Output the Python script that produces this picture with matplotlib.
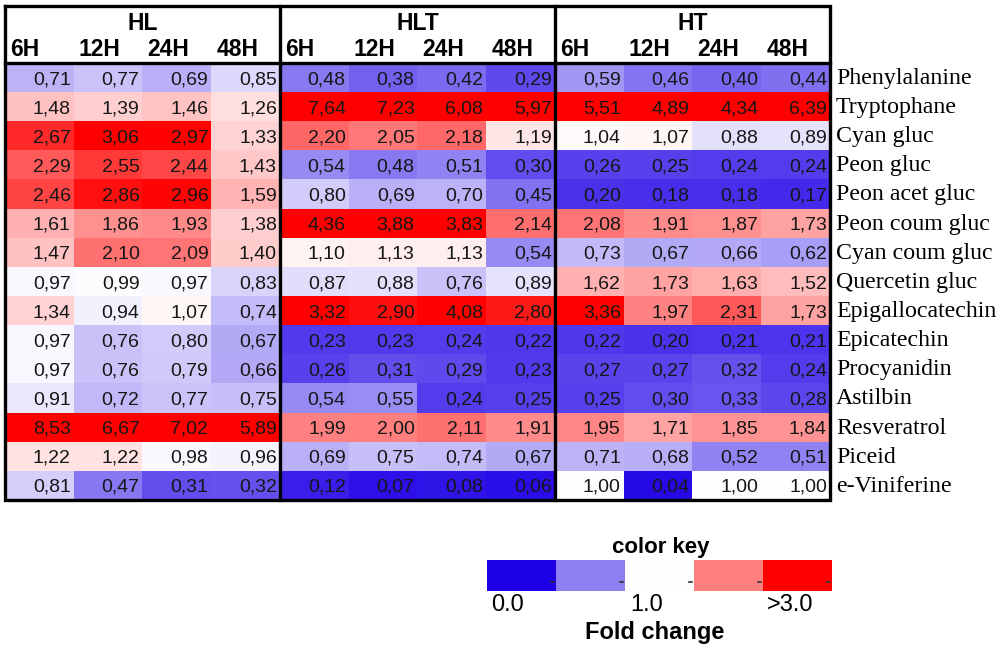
import numpy as np
import matplotlib.pyplot as plt
from matplotlib.colors import LinearSegmentedColormap, TwoSlopeNorm

# data
groups = ['HL', 'HLT', 'HT']
hours = ['6H', '12H', '24H', '48H']
compounds = ['Phenylalanine', 'Tryptophane', 'Cyan gluc', 'Peon gluc', 'Peon acet gluc',
             'Peon coum gluc', 'Cyan coum gluc', 'Quercetin gluc', 'Epigallocatechin',
             'Epicatechin', 'Procyanidin', 'Astilbin', 'Resveratrol', 'Piceid', 'e-Viniferine']

hl = [[0.71, 0.77, 0.69, 0.85],
      [1.48, 1.39, 1.46, 1.26],
      [2.67, 3.06, 2.97, 1.33],
      [2.29, 2.55, 2.44, 1.43],
      [2.46, 2.86, 2.96, 1.59],
      [1.61, 1.86, 1.93, 1.38],
      [1.47, 2.10, 2.09, 1.40],
      [0.97, 0.99, 0.97, 0.83],
      [1.34, 0.94, 1.07, 0.74],
      [0.97, 0.76, 0.80, 0.67],
      [0.97, 0.76, 0.79, 0.66],
      [0.91, 0.72, 0.77, 0.75],
      [8.53, 6.67, 7.02, 5.89],
      [1.22, 1.22, 0.98, 0.96],
      [0.81, 0.47, 0.31, 0.32]]

hlt = [[0.48, 0.38, 0.42, 0.29],
       [7.64, 7.23, 6.08, 5.97],
       [2.20, 2.05, 2.18, 1.19],
       [0.54, 0.48, 0.51, 0.30],
       [0.80, 0.69, 0.70, 0.45],
       [4.36, 3.88, 3.83, 2.14],
       [1.10, 1.13, 1.13, 0.54],
       [0.87, 0.88, 0.76, 0.89],
       [3.32, 2.90, 4.08, 2.80],
       [0.23, 0.23, 0.24, 0.22],
       [0.26, 0.31, 0.29, 0.23],
       [0.54, 0.55, 0.24, 0.25],
       [1.99, 2.00, 2.11, 1.91],
       [0.69, 0.75, 0.74, 0.67],
       [0.12, 0.07, 0.08, 0.06]]

ht = [[0.59, 0.46, 0.40, 0.44],
      [5.51, 4.89, 4.34, 6.39],
      [1.04, 1.07, 0.88, 0.89],
      [0.26, 0.25, 0.24, 0.24],
      [0.20, 0.18, 0.18, 0.17],
      [2.08, 1.91, 1.87, 1.73],
      [0.73, 0.67, 0.66, 0.62],
      [1.62, 1.73, 1.63, 1.52],
      [3.36, 1.97, 2.31, 1.73],
      [0.22, 0.20, 0.21, 0.21],
      [0.27, 0.27, 0.32, 0.24],
      [0.25, 0.30, 0.33, 0.28],
      [1.95, 1.71, 1.85, 1.84],
      [0.71, 0.68, 0.52, 0.51],
      [1.00, 0.04, 1.00, 1.00]]

key_values = [0.0, 0.5, 1.0, 2.0, 3.0]
key_labels = ['0.0', '1.0', '>3.0']

vals = np.hstack([np.array(hl), np.array(hlt), np.array(ht)])
nrow, ncol = vals.shape

# colour scale: blue (0) -> white (1) -> red (>=3)
cmap = LinearSegmentedColormap.from_list('fc', [(30/255, 0, 230/255), (1, 1, 1), (1, 0, 0)])
norm = TwoSlopeNorm(vmin=0, vcenter=1, vmax=3)

fig = plt.figure(figsize=(10, 6.5), dpi=100)
W, H = 1000, 650
top_px, bot_px, left_px, right_px = 63, 500, 5, 830
ax = fig.add_axes([left_px / W, 1 - bot_px / H, (right_px - left_px) / W, (bot_px - top_px) / H])
ax.imshow(vals, cmap=cmap, norm=norm, aspect='auto', interpolation='nearest')
ax.set_xlim(-0.5, ncol - 0.5)
ax.set_ylim(nrow - 0.5, -0.5)
ax.axis('off')

row_px = (bot_px - top_px) / nrow
col_px = (right_px - left_px) / ncol

for i in range(nrow):
    for j in range(ncol):
        ax.text(j + 0.5 - 3 / col_px, i + 0.07, f"{vals[i, j]:.2f}".replace('.', ','),
                ha='right', va='center', fontsize=14, family='Liberation Sans', color='#161616')
    ax.text(ncol - 0.5 + 6 / col_px, i + 0.03, compounds[i], ha='left', va='center',
            fontsize=17.2, family='Liberation Serif', clip_on=False)

# headers
for g, name in enumerate(groups):
    ax.text(g * 4 + 1.5, -0.5 - 40 / row_px, name, ha='center', va='center',
            fontsize=16.5, fontweight='bold', family='Liberation Sans')
    for k, hname in enumerate(hours):
        ax.text(g * 4 + k - 0.5 + 5 / col_px, -0.5 - 13 / row_px, hname, ha='left', va='center',
                fontsize=16.5, fontweight='bold', family='Liberation Sans')

# borders
y_top = -0.5 - (top_px - 6) / row_px
lw = 2.4
ax.plot([-0.5, ncol - 0.5, ncol - 0.5, -0.5, -0.5], [y_top, y_top, nrow - 0.5, nrow - 0.5, y_top],
        color='black', lw=lw, clip_on=False, solid_joinstyle='miter')
for xs in [3.5, 7.5]:
    ax.plot([xs, xs], [y_top, nrow - 0.5], color='black', lw=lw, clip_on=False)
ax.plot([-0.5, ncol - 0.5], [-0.5, -0.5], color='black', lw=lw, clip_on=False)

# colour key
kax = fig.add_axes([487 / W, 1 - 591 / H, 345 / W, 31 / H])
kax.imshow([key_values], cmap=cmap, norm=norm, aspect='auto')
kax.set_xlim(-0.5, len(key_values) - 0.5)
kax.axis('off')
# small tick dashes at the lower right of each key box
for k in range(len(key_values)):
    kax.plot([k + 0.43, k + 0.47], [0.2, 0.2], color='#333333', lw=1.2)
fig.text(661 / W, 1 - 547 / H, 'color key', ha='center', va='center', fontsize=16,
         fontweight='bold', family='Liberation Sans')
for xp, lab in zip([508, 647, 790], key_labels):
    fig.text(xp / W, 1 - 605 / H, lab, ha='center', va='center', fontsize=17, family='Liberation Sans')
fig.text(655 / W, 1 - 632 / H, 'Fold change', ha='center', va='center', fontsize=17,
         fontweight='bold', family='Liberation Sans')

fig.savefig('out.png', dpi=100)
